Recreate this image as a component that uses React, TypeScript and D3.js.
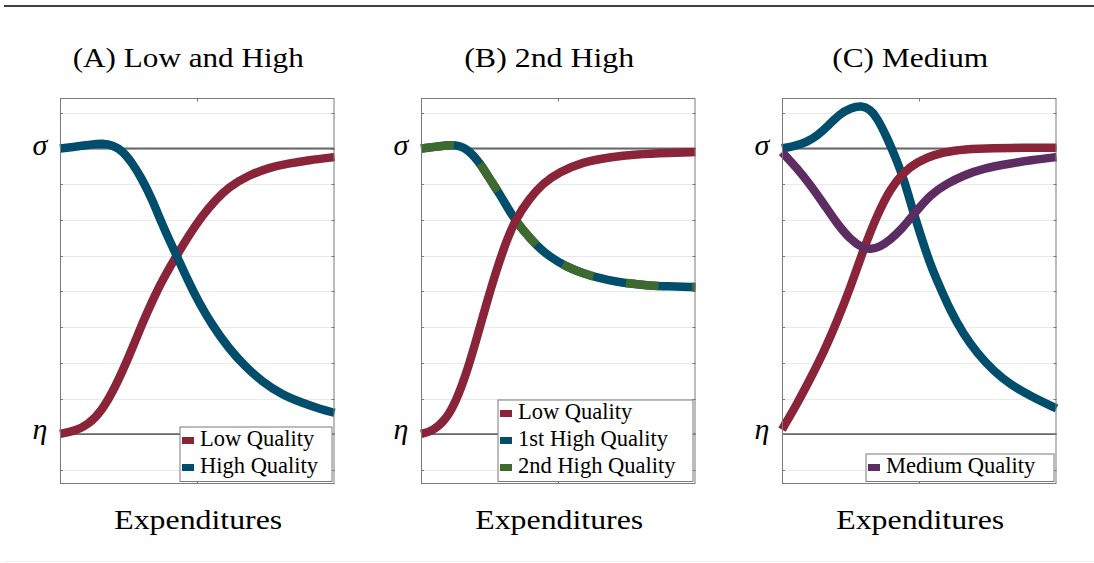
import React from "react";
import * as d3 from "d3";

// Expenditure share (0..1 along the x axis) and outcome level on a 0..10 scale.
type Pt = [number, number];

const Y_TICKS = [0, 1, 2, 3, 4, 5, 6, 7, 8, 9, 10];
const X_TICKS = [0.5];
const SIGMA = 9;
const ETA = 1;

const PANEL_TITLES = ["(A) Low and High", "(B) 2nd High", "(C) Medium"];
const X_LABEL = "Expenditures";

// Panel A
const lowA: Pt[] = [
  [0, 1.01], [0.055, 1.09], [0.103, 1.27], [0.152, 1.65], [0.2, 2.3], [0.249, 3.13],
  [0.298, 4.07], [0.346, 4.9], [0.383, 5.45], [0.425, 6.0], [0.468, 6.55], [0.516, 7.1],
  [0.565, 7.55], [0.614, 7.92], [0.687, 8.25], [0.759, 8.46], [0.832, 8.58], [0.905, 8.67], [1, 8.76],
];
const highA: Pt[] = [
  [0, 9.0], [0.055, 9.05], [0.103, 9.1], [0.158, 9.15], [0.194, 9.08], [0.225, 8.95],
  [0.261, 8.62], [0.298, 8.16], [0.334, 7.6], [0.371, 6.9], [0.401, 6.39], [0.425, 6.0],
  [0.468, 5.27], [0.504, 4.72], [0.553, 4.07], [0.614, 3.41], [0.674, 2.9], [0.735, 2.48],
  [0.808, 2.11], [0.881, 1.88], [0.954, 1.69], [1, 1.6],
];

// Panel B
const lowB: Pt[] = [
  [0, 1.01], [0.043, 1.09], [0.091, 1.41], [0.128, 1.93], [0.164, 2.67], [0.2, 3.6],
  [0.237, 4.62], [0.273, 5.55], [0.31, 6.39], [0.346, 7.04], [0.395, 7.6], [0.443, 8.02],
  [0.504, 8.34], [0.589, 8.62], [0.687, 8.76], [0.784, 8.84], [0.905, 8.88], [1, 8.9],
];
const highB: Pt[] = [
  [0, 9.0], [0.055, 9.05], [0.122, 9.12], [0.164, 9.02], [0.213, 8.62], [0.249, 8.16],
  [0.286, 7.74], [0.334, 7.09], [0.371, 6.72], [0.419, 6.3], [0.468, 5.97], [0.529, 5.69],
  [0.589, 5.51], [0.65, 5.37], [0.711, 5.27], [0.772, 5.21], [0.832, 5.16], [0.893, 5.14], [1, 5.12],
];

// Panel C
const lowC: Pt[] = [
  [0, 1.13], [0.055, 1.85], [0.103, 2.55], [0.152, 3.3], [0.2, 4.15], [0.249, 5.1],
  [0.298, 6.2], [0.346, 7.13], [0.395, 7.88], [0.443, 8.34], [0.492, 8.62], [0.553, 8.83],
  [0.626, 8.95], [0.711, 9.0], [0.832, 9.02], [1, 9.02],
];
const highC: Pt[] = [
  [0, 9.0], [0.05, 9.08], [0.09, 9.18], [0.13, 9.37], [0.163, 9.6], [0.211, 9.97],
  [0.25, 10.14], [0.29, 10.2], [0.32, 10.1], [0.345, 9.88], [0.382, 9.32], [0.418, 8.67],
  [0.445, 8.11], [0.473, 7.36], [0.503, 6.62], [0.539, 5.78], [0.564, 5.32], [0.614, 4.44],
  [0.662, 3.79], [0.711, 3.27], [0.772, 2.76], [0.832, 2.39], [0.905, 2.07], [1, 1.72],
];
const mediumC: Pt[] = [
  [0, 8.9], [0.055, 8.45], [0.103, 7.98], [0.152, 7.45], [0.2, 6.9], [0.249, 6.45],
  [0.292, 6.22], [0.322, 6.17], [0.359, 6.25], [0.395, 6.45], [0.431, 6.7], [0.479, 7.15],
  [0.541, 7.72], [0.602, 8.02], [0.662, 8.25], [0.735, 8.45], [0.832, 8.58], [0.905, 8.67], [1, 8.76],
];

const COLORS = {
  low: "#8A2439",
  high: "#004D6C",
  second: "#3E6A2F",
  medium: "#5D2C63",
};

const FONT = "Liberation Serif";

type Series = { data: Pt[]; color: string; dashColor?: string };
type LegendItem = { label: string; color: string };
type Panel = {
  title: string;
  left: number;
  series: Series[];
  legend: LegendItem[];
  legendWidth: number;
};

const panels: Panel[] = [
  {
    title: PANEL_TITLES[0],
    left: 60,
    series: [
      { data: lowA, color: COLORS.low },
      { data: highA, color: COLORS.high },
    ],
    legend: [
      { label: "Low Quality", color: COLORS.low },
      { label: "High Quality", color: COLORS.high },
    ],
    legendWidth: 152,
  },
  {
    title: PANEL_TITLES[1],
    left: 421,
    series: [
      { data: highB, color: COLORS.high, dashColor: COLORS.second },
      { data: lowB, color: COLORS.low },
    ],
    legend: [
      { label: "Low Quality", color: COLORS.low },
      { label: "1st High Quality", color: COLORS.high },
      { label: "2nd High Quality", color: COLORS.second },
    ],
    legendWidth: 195,
  },
  {
    title: PANEL_TITLES[2],
    left: 782,
    series: [
      { data: highC, color: COLORS.high },
      { data: lowC, color: COLORS.low },
      { data: mediumC, color: COLORS.medium },
    ],
    legend: [{ label: "Medium Quality", color: COLORS.medium }],
    legendWidth: 188,
  },
];

const W = 1094;
const H = 563;
const PANEL_W = 274.5;
const TOP = 98.5;
const BOTTOM = 483.5;
const TITLE_WIDTHS = [231, 170, 156];

const textStyle = (size: number, italic = false): React.CSSProperties => ({
  fontFamily: FONT,
  fontSize: size,
  fontStyle: italic ? "italic" : "normal",
});

function PanelView({ p, i }: { p: Panel; i: number }) {
  const x = d3.scaleLinear().domain([0, 1]).range([p.left, p.left + PANEL_W]);
  const y = d3.scaleLinear().domain([-0.38, 10.4]).range([BOTTOM, TOP]);
  const line = d3
    .line<Pt>()
    .x((d) => x(d[0]))
    .y((d) => y(d[1]))
    .curve(d3.curveBasis);

  const cx = p.left + PANEL_W / 2;
  const right = p.left + PANEL_W;
  const rowH = 27;
  const legH = p.legend.length * rowH + 0.5;
  const legX = right - 3 - p.legendWidth;
  const legBottom = 481;
  const legY = legBottom - legH;

  return (
    <g>
      {/* horizontal grid */}
      {Y_TICKS.map((t) => (
        <line
          key={"g" + t}
          x1={p.left}
          x2={right}
          y1={Math.round(y(t)) + 0.5}
          y2={Math.round(y(t)) + 0.5}
          stroke="#e9e9e9"
          strokeWidth={1}
        />
      ))}
      {/* reference levels */}
      {[SIGMA, ETA].map((t) => (
        <line
          key={"r" + t}
          x1={p.left}
          x2={right}
          y1={y(t)}
          y2={y(t)}
          stroke="#666"
          strokeWidth={1.8}
        />
      ))}
      {/* inner tick marks */}
      {Y_TICKS.map((t) => (
        <g key={"t" + t} stroke="#777" strokeWidth={1}>
          <line x1={p.left} x2={p.left + 3} y1={Math.round(y(t)) + 0.5} y2={Math.round(y(t)) + 0.5} />
          <line x1={right - 3} x2={right} y1={Math.round(y(t)) + 0.5} y2={Math.round(y(t)) + 0.5} />
        </g>
      ))}
      {X_TICKS.map((t) => (
        <g key={"xt" + t} stroke="#777" strokeWidth={1}>
          <line x1={Math.round(x(t)) + 0.5} x2={Math.round(x(t)) + 0.5} y1={TOP} y2={TOP + 3} />
          <line x1={Math.round(x(t)) + 0.5} x2={Math.round(x(t)) + 0.5} y1={BOTTOM - 3} y2={BOTTOM} />
        </g>
      ))}
      {/* curves */}
      {p.series.map((s, k) => (
        <g key={"s" + k}>
          <path d={line(s.data) || ""} fill="none" stroke={s.color} strokeWidth={8.5} />
          {s.dashColor && (
            <path
              d={line(s.data) || ""}
              fill="none"
              stroke={s.dashColor}
              strokeWidth={8.5}
              strokeDasharray="33 33"
            />
          )}
        </g>
      ))}
      {/* axes box */}
      <rect
        x={p.left + 0.5}
        y={TOP}
        width={PANEL_W - 1}
        height={BOTTOM - TOP}
        fill="none"
        stroke="#7a7a7a"
        strokeWidth={1}
      />
      {/* y labels */}
      <text x={p.left - 20} y={y(SIGMA) + 6} textAnchor="middle" style={textStyle(30, true)} fill="#000">
        σ
      </text>
      <text x={p.left - 20} y={y(ETA) + 5} textAnchor="middle" style={textStyle(30, true)} fill="#000">
        η
      </text>
      {/* legend */}
      <rect x={legX + 0.5} y={legY + 0.5} width={p.legendWidth} height={legH} fill="#fff" stroke="#7a7a7a" strokeWidth={1} />
      {p.legend.map((it, k) => {
        const base = legY + 19.5 + k * rowH;
        return (
          <g key={"l" + k}>
            <rect x={legX + 2.5} y={base - 9} width={12} height={7} fill={it.color} />
            <text x={legX + 20.5} y={base} style={textStyle(22.5)} fill="#000">
              {it.label}
            </text>
          </g>
        );
      })}
      {/* titles */}
      <text
        x={cx - 9}
        y={67}
        textAnchor="middle"
        style={textStyle(27)}
        fill="#000"
        textLength={TITLE_WIDTHS[i]}
        lengthAdjust="spacingAndGlyphs"
      >
        {p.title}
      </text>
      <text
        x={cx + 1}
        y={529}
        textAnchor="middle"
        style={textStyle(27)}
        fill="#000"
        textLength={168}
        lengthAdjust="spacingAndGlyphs"
      >
        {X_LABEL}
      </text>
    </g>
  );
}

export default function App() {
  return (
    <svg
      width={W}
      height={H}
      viewBox={`0 0 ${W} ${H}`}
      style={{ position: "absolute", left: 0, top: 0, background: "#fff" }}
    >
      <rect x={0} y={0} width={W} height={H} fill="#fff" />
      <line x1={4} x2={W} y1={6} y2={6} stroke="#000" strokeWidth={1.5} />
      <line x1={4} x2={W} y1={561.5} y2={561.5} stroke="#f0f0f0" strokeWidth={1} />
      {panels.map((p, i) => (
        <PanelView key={i} p={p} i={i} />
      ))}
    </svg>
  );
}
